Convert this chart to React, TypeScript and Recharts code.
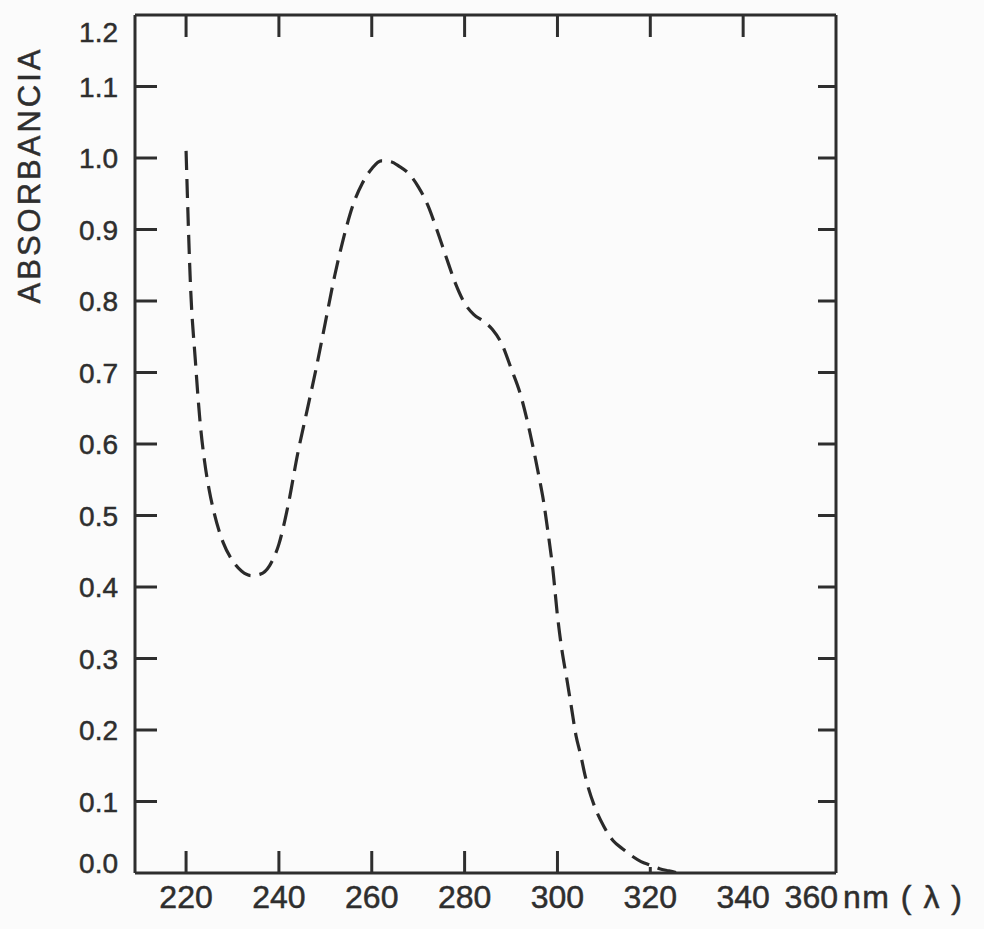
import React from "react";
import { LineChart, Line, XAxis, YAxis } from "recharts";

// wavelength (nm)
const wavelengths = [
  220, 221, 222, 223, 224, 225, 226, 228, 230, 232, 234, 236, 238, 240, 242,
  244, 246, 248, 250, 252, 254, 256, 258, 260, 262, 264, 266, 268, 270, 272,
  274, 276, 278, 280, 282, 284, 286, 288, 290, 292, 294, 296, 297, 298, 299,
  300, 301, 302, 303, 304, 305, 306, 308, 310, 312, 314, 316, 318, 320, 322,
  324, 326,
];

const absorbance = [
  1.01, 0.815, 0.717, 0.632, 0.575, 0.535, 0.505, 0.462, 0.437, 0.422, 0.416,
  0.418, 0.43, 0.46, 0.515, 0.585, 0.645, 0.705, 0.77, 0.835, 0.89, 0.935,
  0.965, 0.985, 0.996, 0.995, 0.988, 0.978, 0.96, 0.935, 0.9, 0.862, 0.825,
  0.797, 0.781, 0.772, 0.76, 0.74, 0.706, 0.67, 0.618, 0.555, 0.52, 0.475,
  0.425, 0.36, 0.31, 0.272, 0.232, 0.192, 0.165, 0.135, 0.093, 0.065, 0.045,
  0.034, 0.024, 0.016, 0.011, 0.006, 0.003, 0,
];

const xTicks = [220, 240, 260, 280, 300, 320, 340, 360];
const yTicks = [0, 0.1, 0.2, 0.3, 0.4, 0.5, 0.6, 0.7, 0.8, 0.9, 1.0, 1.1, 1.2];

const data = wavelengths.map((w, i) => ({ w, a: absorbance[i] }));

const INK = "#2e2e2e";
const FONT = "'Liberation Sans', Arial, sans-serif";
const textStyle = {
  fontFamily: FONT,
  fill: INK,
  stroke: INK,
  strokeWidth: 0.5,
};

function LeftTick({ x, y, payload }: any) {
  const v = payload.value;
  const edge = v === 0 || v === 1.2;
  let dy = 0;
  if (v === 1.2) dy = 17;
  if (v === 0) dy = -10;
  return (
    <g>
      {!edge && (
        <line x1={x} y1={y} x2={x + 22} y2={y} stroke={INK} strokeWidth={3} />
      )}
      <text
        x={x - 17}
        y={y + dy}
        dy="0.36em"
        textAnchor="end"
        fontSize={28}
        {...textStyle}
      >
        {v.toFixed(1)}
      </text>
    </g>
  );
}

function RightTick({ x, y, payload }: any) {
  const v = payload.value;
  if (v === 0 || v === 1.2) return <g />;
  return <line x1={x} y1={y} x2={x - 18} y2={y} stroke={INK} strokeWidth={3} />;
}

function TopTick({ x, y, payload }: any) {
  if (payload.value > 340) return <g />;
  return <line x1={x} y1={y} x2={x} y2={y + 22} stroke={INK} strokeWidth={3} />;
}

function BottomTick({ x, y, payload }: any) {
  const v = payload.value;
  const len = v <= 300 ? 22 : v === 320 ? 6 : 0;
  return (
    <g>
      {len > 0 && (
        <line x1={x} y1={y} x2={x} y2={y - len} stroke={INK} strokeWidth={3} />
      )}
      {v === 360 ? (
        <>
          <text x={x + 2} y={y + 35} textAnchor="end" fontSize={32} {...textStyle}>
            {v}
          </text>
          <text
            x={x + 7}
            y={y + 35}
            textAnchor="start"
            fontSize={32}
            letterSpacing={1.5}
            {...textStyle}
          >
            nm ( λ )
          </text>
        </>
      ) : (
        <text x={x} y={y + 35} textAnchor="middle" fontSize={32} {...textStyle}>
          {v}
        </text>
      )}
    </g>
  );
}

function AxisTitle() {
  return (
    <text
      x={29}
      y={175}
      transform="rotate(-90 29 175)"
      textAnchor="middle"
      dominantBaseline="central"
      fontSize={31}
      letterSpacing={3}
      {...textStyle}
    >
      ABSORBANCIA
    </text>
  );
}

export default function App() {
  return (
    <div
      style={{
        position: "absolute",
        left: 0,
        top: 0,
        width: 984,
        height: 929,
        background: "#fbfbfb",
      }}
    >
      <LineChart
        width={984}
        height={929}
        data={data}
        margin={{ top: 0, right: 0, bottom: 0, left: 0 }}
      >
        <XAxis
          xAxisId="bottom"
          dataKey="w"
          type="number"
          domain={[209, 360]}
          ticks={xTicks}
          interval={0}
          height={56}
          tickSize={0}
          tickMargin={0}
          tickLine={false}
          axisLine={{ stroke: INK, strokeWidth: 3 }}
          tick={<BottomTick />}
          allowDataOverflow
        />
        <XAxis
          xAxisId="top"
          orientation="top"
          dataKey="w"
          type="number"
          domain={[209, 360]}
          ticks={xTicks}
          interval={0}
          height={15}
          tickSize={0}
          tickMargin={0}
          tickLine={false}
          axisLine={{ stroke: INK, strokeWidth: 3 }}
          tick={<TopTick />}
          allowDataOverflow
        />
        <YAxis
          yAxisId="left"
          type="number"
          domain={[0, 1.2]}
          ticks={yTicks}
          interval={0}
          width={135}
          tickSize={0}
          tickMargin={0}
          tickLine={false}
          axisLine={{ stroke: INK, strokeWidth: 3 }}
          tick={<LeftTick />}
          label={{ content: () => <AxisTitle /> }}
          allowDataOverflow
        />
        <YAxis
          yAxisId="right"
          orientation="right"
          type="number"
          domain={[0, 1.2]}
          ticks={yTicks}
          interval={0}
          width={148}
          tickSize={0}
          tickMargin={0}
          tickLine={false}
          axisLine={{ stroke: INK, strokeWidth: 3 }}
          tick={<RightTick />}
          allowDataOverflow
        />
        <Line
          xAxisId="bottom"
          yAxisId="left"
          dataKey="a"
          type="monotone"
          stroke="#2a2a2a"
          strokeWidth={3.2}
          strokeDasharray="19 9"
          dot={false}
          isAnimationActive={false}
        />
      </LineChart>
    </div>
  );
}
